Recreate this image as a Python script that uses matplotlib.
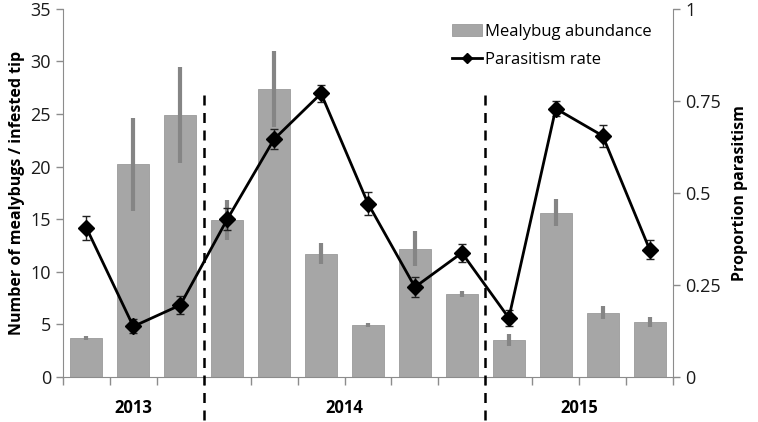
import matplotlib.pyplot as plt
import numpy as np

plt.rcParams['font.family'] = ['Open Sans', 'DejaVu Sans']

# Mealybug abundance per sampling date (left axis)
abundance = [3.7, 20.2, 24.9, 14.9, 27.4, 11.7, 4.9, 12.2, 7.9, 3.5, 15.6, 6.1, 5.2]
abundance_err = [0.2, 4.4, 4.6, 1.9, 3.6, 1.0, 0.2, 1.7, 0.3, 0.6, 1.3, 0.6, 0.45]

# Parasitism rate (right axis)
parasitism = [0.405, 0.137, 0.195, 0.428, 0.646, 0.770, 0.471, 0.244, 0.337,
              0.160, 0.729, 0.655, 0.346]
parasitism_err = [0.033, 0.019, 0.025, 0.030, 0.027, 0.023, 0.030, 0.026, 0.025,
                  0.022, 0.021, 0.030, 0.027]

years = ["2013", "2014", "2015"]
year_counts = [3, 6, 4]

x = np.arange(len(abundance))
axis_grey = "#8c8c8c"

fig = plt.figure(figsize=(7.58, 4.22), dpi=100)
ax = fig.add_axes([0.083, 0.107, 0.805, 0.872])
ax2 = ax.twinx()

# Bars with thick grey error bars
bars = ax.bar(x, abundance, width=0.68, color="#a6a6a6", edgecolor="#9a9a9a",
              linewidth=0.6, label="Mealybug abundance", zorder=2)
ax.errorbar(x, abundance, yerr=abundance_err, fmt="none", ecolor="#858585",
            elinewidth=3, capsize=0, zorder=3)

# Parasitism line
line, = ax2.plot(x, parasitism, color="black", linewidth=2, marker="D",
                 markersize=8.5, label="Parasitism rate", zorder=4)
ax2.errorbar(x, parasitism, yerr=parasitism_err, fmt="none", ecolor="#222222",
             elinewidth=1, capsize=3, capthick=1, zorder=3)

ax.set_xlim(-0.5, len(abundance) - 0.5)
ax.set_ylim(0, 35)
ax2.set_ylim(0, 1)

ax.set_yticks(range(0, 36, 5))
ax2.set_yticks([0, 0.25, 0.5, 0.75, 1])
ax2.set_yticklabels(["0", "0.25", "0.5", "0.75", "1"])
ax.set_xticks(np.arange(-0.5, len(abundance), 1))
ax.set_xticklabels([])

for a in (ax, ax2):
    a.spines["top"].set_visible(False)
    for s in ("left", "right", "bottom"):
        a.spines[s].set_color(axis_grey)
    a.tick_params(colors=axis_grey, labelcolor="#1a1a1a", labelsize=13,
                  length=5, width=1)
ax.spines["right"].set_visible(False)
ax2.spines["left"].set_visible(False)
ax2.spines["bottom"].set_visible(False)
ax.tick_params(axis="x", length=6)

ax.set_ylabel("Number of mealybugs / infested tip", fontsize=11.5,
              fontweight="bold", labelpad=4)
ax2.set_ylabel("Proportion parasitism", fontsize=11.5, fontweight="bold",
               labelpad=8)

# Year separators and labels
start = 0
for i, (yr, n) in enumerate(zip(years, year_counts)):
    center = start + (n - 1) / 2
    ax.text(center, -3.0, yr, ha="center", va="center", fontsize=12,
            fontweight="bold")
    if i < len(years) - 1:
        b = start + n - 0.5
        ax.plot([b, b], [26.8, -4.3], color="black", linestyle=(0, (4, 3)),
                linewidth=1.8, clip_on=False, zorder=5)
    start += n

ax2.legend([bars, line], ["Mealybug abundance", "Parasitism rate"],
           loc="upper right", bbox_to_anchor=(0.99, 1.0), frameon=False,
           fontsize=12, handlelength=1.8, handletextpad=0.2, labelspacing=0.7,
           markerscale=0.6)

plt.savefig("out.png", dpi=100)
